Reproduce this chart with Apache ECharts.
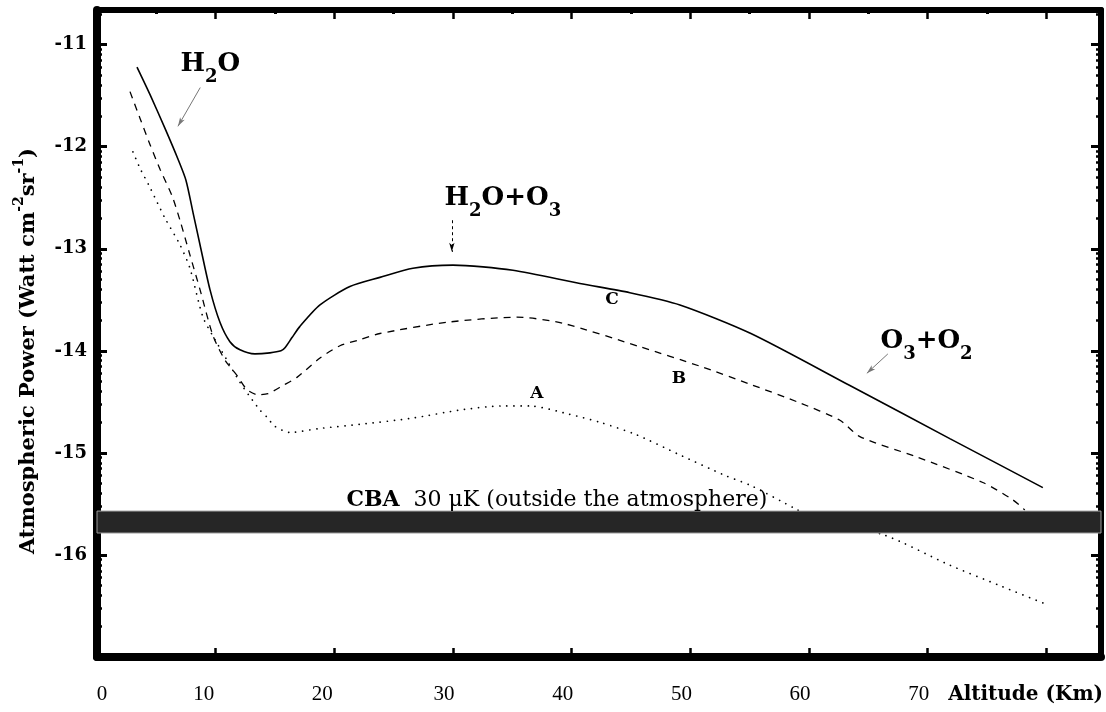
<!DOCTYPE html>
<html><head><meta charset="utf-8">
<script src="https://cdn.jsdelivr.net/npm/echarts@6/dist/echarts.min.js"></script>
<style>html,body{margin:0;padding:0;background:#fff}#c{width:1106px;height:712px}</style>
</head><body><div id="c"></div>
<script>
// ---- data (altitude km, log10 power) ----
const xTickValues = [0, 10, 20, 30, 40, 50, 60, 70];
const xTickLabels = ['0', '10', '20', '30', '40', '50', '60', '70'];
const xMajorTicks = [0, 10, 20, 30, 40, 50, 60, 70, 80];
const xMinorTicks = [5, 15, 25, 35, 45, 55, 65, 75];
const yTickValues = [-11, -12, -13, -14, -15, -16];

const curveC = [[3.37,-11.22],[4.47,-11.49],[5.73,-11.82],[6.82,-12.12],[7.50,-12.33],[8.10,-12.65],[8.68,-12.96],[9.52,-13.40],[10.36,-13.72],[11.20,-13.91],[12.05,-13.99],[13.31,-14.03],[14.57,-14.02],[15.50,-14.00],[15.84,-13.97],[16.43,-13.87],[17.10,-13.76],[18.79,-13.55],[21.31,-13.37],[23.84,-13.28],[26.62,-13.19],[29.99,-13.16],[35.05,-13.21],[40.69,-13.34],[44.9,-13.43],[49.12,-13.55],[55.1,-13.83],[63.44,-14.34],[71.86,-14.86],[79.70,-15.34]];

const curveB = [[2.78,-11.46],[3.62,-11.72],[4.47,-11.98],[5.31,-12.22],[6.32,-12.48],[6.99,-12.72],[7.83,-13.06],[8.68,-13.40],[9.77,-13.85],[10.78,-14.09],[11.79,-14.24],[12.64,-14.38],[13.56,-14.43],[14.41,-14.42],[15.67,-14.34],[16.85,-14.26],[18.79,-14.07],[20.47,-13.95],[22.16,-13.89],[23.84,-13.83],[29.49,-13.72],[35.38,-13.67],[39.26,-13.73],[45.75,-13.96],[50.8,-14.15],[55.1,-14.33],[59.22,-14.51],[62.6,-14.68],[64.28,-14.84],[69.08,-15.04],[74.64,-15.29],[77.17,-15.46],[78.18,-15.56]];

const curveA = [[3.03,-12.05],[3.62,-12.21],[4.47,-12.40],[5.73,-12.70],[6.99,-12.96],[7.83,-13.19],[8.93,-13.67],[9.94,-13.89],[10.95,-14.09],[12.05,-14.31],[12.89,-14.45],[13.73,-14.58],[14.32,-14.65],[15.0,-14.74],[16.26,-14.80],[18.79,-14.76],[22.16,-14.72],[26.54,-14.66],[30.58,-14.58],[34.12,-14.54],[36.48,-14.54],[39.76,-14.62],[42.38,-14.70],[45.41,-14.82],[49.12,-15.02],[52.91,-15.22],[55.1,-15.32],[58.89,-15.55],[61.16,-15.69],[66.22,-15.80],[71.86,-16.10],[76.07,-16.30],[79.70,-16.47]];

const cbaBand = [-15.57, -15.785];

// ---- layout ----
const X_MIN = 0, X_MAX = 84.6, Y_MIN = -17, Y_MAX = -10.66;
const SERIF = 'DejaVu Serif';

function minorLogTicks() {
  const out = [];
  for (let n = -17; n <= -11; n++) {
    for (let k = 2; k <= 9; k++) {
      const v = n + Math.log10(k);
      if (v > Y_MIN && v < Y_MAX) out.push(+v.toFixed(4));
    }
  }
  return out;
}
const yMinorTicks = minorLogTicks();

function xAx(pos, ticks, len, w, lineW, labels) {
  return {
    type: 'value', position: pos, min: X_MIN, max: X_MAX,
    splitLine: { show: false },
    axisLine: { show: lineW > 0, onZero: false, lineStyle: { color: '#000', width: lineW || 1 } },
    axisTick: { show: true, inside: true, length: len, customValues: ticks, lineStyle: { color: '#000', width: w } },
    axisLabel: labels ? {
      show: true, customValues: xTickValues, margin: 27,
      formatter: v => {
        const t = xTickLabels[xTickValues.indexOf(v)] || '';
        return v === 0 ? '{z|' + t + '}' : (v <= 20 ? '{m|' + t + '}' : '{n|' + t + '}');
      },
      rich: {
        z: { fontFamily: 'Liberation Serif', fontSize: 21, color: '#000', padding: [0, 0, 0, 10] },
        m: { fontFamily: 'Liberation Serif', fontSize: 21, color: '#000', padding: [0, 24, 0, 0] },
        n: { fontFamily: 'Liberation Serif', fontSize: 21, color: '#000', padding: [0, 18, 0, 0] }
      }
    } : { show: false }
  };
}
function yAx(pos, ticks, len, w, lineW, labels) {
  return {
    type: 'value', position: pos, min: Y_MIN, max: Y_MAX,
    splitLine: { show: false },
    axisLine: { show: lineW > 0, onZero: false, lineStyle: { color: '#000', width: lineW || 1 } },
    axisTick: { show: true, inside: true, length: len, customValues: ticks, lineStyle: { color: '#000', width: w } },
    axisLabel: labels ? {
      show: true, customValues: yTickValues, margin: 10,
      formatter: v => String(v),
      fontFamily: SERIF, fontWeight: 'bold', fontSize: 18, color: '#000'
    } : { show: false }
  };
}

const textRich = {
  b: { fontFamily: SERIF, fontWeight: 'bold', fontSize: 26, lineHeight: 27, verticalAlign: 'top', fill: '#000' },
  s: { fontFamily: SERIF, fontWeight: 'bold', fontSize: 18, lineHeight: 35, verticalAlign: 'bottom', fill: '#000' },
  l: { fontFamily: SERIF, fontWeight: 'bold', fontSize: 17, fill: '#000' },
  cb: { fontFamily: SERIF, fontWeight: 'bold', fontSize: 22, fill: '#000' },
  cr: { fontFamily: SERIF, fontSize: 22, fill: '#000' }
};

const annotations = [
  { value: [9.55, -11.24], text: '{b|H}{s|2}{b|O}' },
  { value: [34.2, -12.55], text: '{b|H}{s|2}{b|O+O}{s|3}' },
  { value: [69.9, -13.95], text: '{b|O}{s|3}{b|+O}{s|2}' },
  { value: [43.39, -13.50], text: '{l|C}' },
  { value: [49.03, -14.27], text: '{l|B}' },
  { value: [37.07, -14.42], text: '{l|A}' },
  { value: [38.75, -15.46], text: '{cb|CBA}{cr|  30 μK (outside the atmosphere)}' }
];
const arrows = [
  { from: [8.70, -11.42], to: [6.82, -11.80], dashed: false },
  { from: [29.9, -12.72], to: [29.9, -13.03], dashed: true },
  { from: [66.64, -14.03], to: [64.87, -14.22], dashed: false }
];

const chart = echarts.init(document.getElementById('c'), null, { renderer: 'canvas' });
chart.setOption({
  animation: false,
  backgroundColor: '#fff',
  grid: { left: 97, right: 5, top: 10, bottom: 55, containLabel: false },
  xAxis: [
    xAx('bottom', xMajorTicks, 9, 2.5, 8, true),
    xAx('top', xMajorTicks, 9, 2.5, 6, false),
    xAx('bottom', xMinorTicks, 4, 3, 0, false),
    xAx('top', xMinorTicks, 4, 3, 0, false)
  ],
  yAxis: [
    yAx('left', yTickValues, 10, 3, 8, true),
    yAx('right', yTickValues, 10, 3, 6, false),
    yAx('left', yMinorTicks, 5, 2.5, 0, false),
    yAx('right', yMinorTicks, 5, 2.5, 0, false)
  ],
  series: [
    { name: 'C', type: 'line', data: curveC, showSymbol: false, smooth: 0.25, z: 4,
      lineStyle: { color: '#000', width: 1.6 } },
    { name: 'B', type: 'line', data: curveB, showSymbol: false, smooth: 0.25, z: 4,
      lineStyle: { color: '#000', width: 1.3, type: [7, 6] } },
    { name: 'A', type: 'line', data: curveA, showSymbol: false, smooth: 0.25, z: 4,
      lineStyle: { color: '#000', width: 1.7, type: [0.1, 7], cap: 'round' } },
    { name: 'band', type: 'line', data: [[X_MIN, cbaBand[0]]], showSymbol: false, z: 6,
      lineStyle: { opacity: 0 }, silent: true,
      markArea: { silent: true, z: 6,
        itemStyle: { color: '#262626', borderColor: '#9a9a9a', borderWidth: 1 },
        data: [[{ yAxis: cbaBand[0] }, { yAxis: cbaBand[1] }]] },
      markLine: { silent: true, animation: false, symbol: ['none', 'arrow'], symbolSize: [4, 9],
        label: { show: false },
        data: arrows.map(a => [
          { coord: a.from, lineStyle: { color: a.dashed ? '#000' : '#777', width: 1, type: a.dashed ? [3, 3] : 'solid' } },
          { coord: a.to }
        ]) } }
  ]
});

const notes = annotations.map(a => {
  const p = chart.convertToPixel({ xAxisIndex: 0, yAxisIndex: 0 }, a.value);
  return { type: 'text', x: p[0], y: p[1], silent: true, z: 20,
    style: { text: a.text, align: 'center', verticalAlign: 'middle', rich: textRich } };
});
chart.setOption({
  graphic: [
    { type: 'text', x: 26, y: 351, rotation: Math.PI / 2, silent: true,
      style: { text: '{b|Atmospheric Power (Watt cm}{s|-2}{b|sr}{s|-1}{b|)}', align: 'center', verticalAlign: 'middle',
        rich: {
          b: { fontFamily: SERIF, fontWeight: 'bold', fontSize: 21, lineHeight: 27, verticalAlign: 'bottom', fill: '#000' },
          s: { fontFamily: SERIF, fontWeight: 'bold', fontSize: 14, lineHeight: 14, verticalAlign: 'top', fill: '#000' }
        } } },
    { type: 'text', right: 3, top: 685, silent: true,
      style: { text: 'Altitude (Km)', fontFamily: SERIF, fontWeight: 'bold', fontSize: 20, fill: '#000' } }
  ].concat(notes)
});
</script></body></html>
